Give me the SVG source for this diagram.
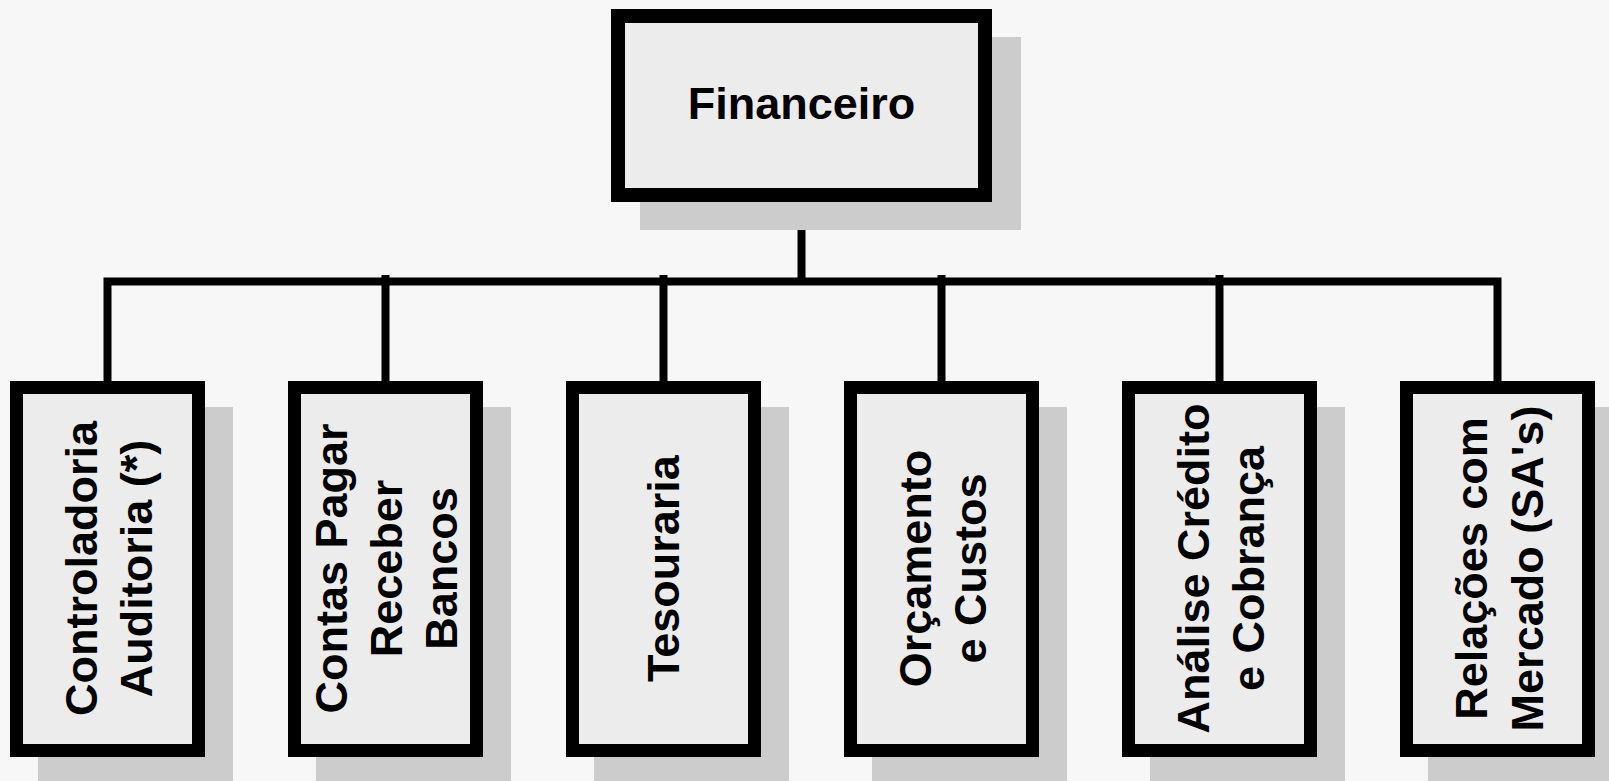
<svg xmlns="http://www.w3.org/2000/svg" width="1609" height="781" viewBox="0 0 1609 781">
  <style>
    .shadow { fill: #cccccc; }
    .box { fill: #ececec; stroke: #000000; stroke-width: 14; }
    .child { fill: #ececec; stroke: #000000; stroke-width: 13; }
    .wire { fill: none; stroke: #000000; stroke-width: 8; stroke-linejoin: miter; stroke-linecap: butt; }
    .label { font-family: "Liberation Sans", Arial, sans-serif; font-weight: bold; font-size: 45px; fill: #000000; text-anchor: middle; }
  </style>

  <rect x="0" y="0" width="1609" height="781" fill="#f7f7f7"/>

  <!-- connectors -->
  <g id="connectors">
    <line class="wire" x1="801.5" y1="200" x2="801.5" y2="285"/>
    <path class="wire" d="M107.5 383 V281.5 H1497.5 V383"/>
    <line class="wire" x1="385.5" y1="275" x2="385.5" y2="383"/>
    <line class="wire" x1="663.5" y1="275" x2="663.5" y2="383"/>
    <line class="wire" x1="941.5" y1="275" x2="941.5" y2="383"/>
    <line class="wire" x1="1219.5" y1="275" x2="1219.5" y2="383"/>
  </g>

  <!-- root node -->
  <g id="financeiro">
    <rect class="shadow" x="640" y="37" width="381" height="193"/>
    <rect class="box" x="618" y="16" width="367" height="179"/>
    <text class="label" x="801.5" y="119">Financeiro</text>
  </g>

  <!-- child nodes: vertical labels -->
  <g id="controladoria">
    <rect class="shadow" x="38" y="407" width="195" height="376"/>
    <rect class="child" x="16.5" y="387.5" width="182" height="363"/>
    <g transform="translate(107.5 568.5) rotate(-90)">
      <text class="label" x="0" y="-10.5">Controladoria</text>
      <text class="label" x="0" y="44.5">Auditoria (*)</text>
    </g>
  </g>

  <g id="contas">
    <rect class="shadow" x="316" y="407" width="195" height="376"/>
    <rect class="child" x="294.5" y="387.5" width="182" height="363"/>
    <g transform="translate(385.5 568.5) rotate(-90)">
      <text class="label" x="0" y="-38.5">Contas Pagar</text>
      <text class="label" x="0" y="16.5">Receber</text>
      <text class="label" x="0" y="71.5">Bancos</text>
    </g>
  </g>

  <g id="tesouraria">
    <rect class="shadow" x="594" y="407" width="195" height="376"/>
    <rect class="child" x="572.5" y="387.5" width="182" height="363"/>
    <g transform="translate(663.5 568.5) rotate(-90)">
      <text class="label" x="0" y="15.5">Tesouraria</text>
    </g>
  </g>

  <g id="orcamento">
    <rect class="shadow" x="872" y="407" width="195" height="376"/>
    <rect class="child" x="850.5" y="387.5" width="182" height="363"/>
    <g transform="translate(941.5 568.5) rotate(-90)">
      <text class="label" x="0" y="-10.5">Orçamento</text>
      <text class="label" x="0" y="44">e Custos</text>
    </g>
  </g>

  <g id="credito">
    <rect class="shadow" x="1150" y="407" width="195" height="376"/>
    <rect class="child" x="1128.5" y="387.5" width="182" height="363"/>
    <g transform="translate(1219.5 568.5) rotate(-90)">
      <text class="label" x="0" y="-11">Análise Crédito</text>
      <text class="label" x="0" y="44">e Cobrança</text>
    </g>
  </g>

  <g id="relacoes">
    <rect class="shadow" x="1428" y="407" width="195" height="376"/>
    <rect class="child" x="1406.5" y="387.5" width="182" height="363"/>
    <g transform="translate(1497.5 568.5) rotate(-90)">
      <text class="label" x="0" y="-10.5">Relações com</text>
      <text class="label" x="0" y="45">Mercado (SA's)</text>
    </g>
  </g>
</svg>
